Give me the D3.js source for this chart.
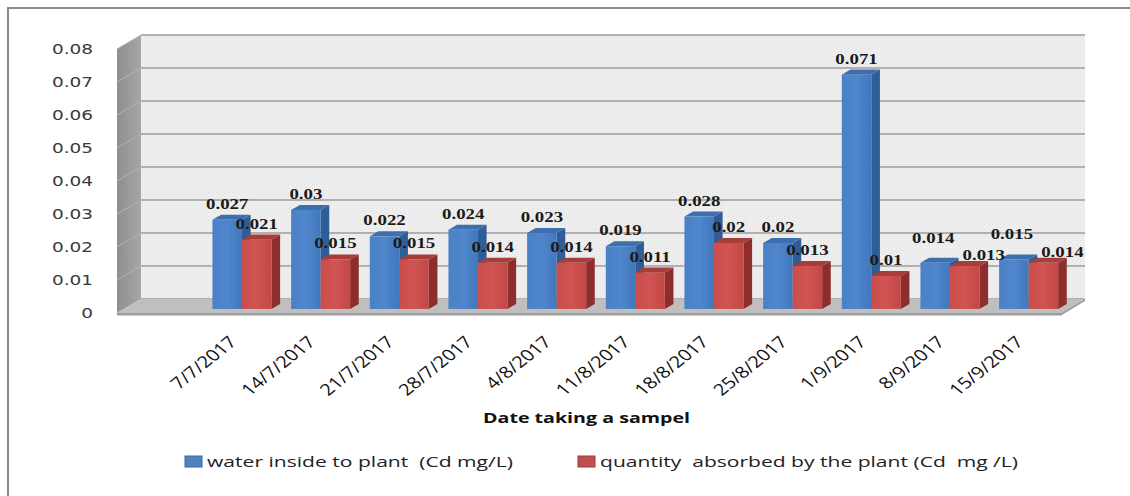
<!DOCTYPE html>
<html><head><meta charset="utf-8">
<script src="https://cdn.jsdelivr.net/npm/d3@7"></script>
<style>
body{margin:0;background:#fff}
svg{display:block}
text{white-space:pre}
</style>
</head><body>
<script>
// Sampling dates (categories)
const dates = ["7/7/2017","14/7/2017","21/7/2017","28/7/2017","4/8/2017","11/8/2017","18/8/2017","25/8/2017","1/9/2017","8/9/2017","15/9/2017"];
// Cd concentration in water inside the plant (mg/L)
const waterInside = [0.027,0.03,0.022,0.024,0.023,0.019,0.028,0.02,0.071,0.014,0.015];
// Cd quantity absorbed by the plant (mg/L)
const absorbed = [0.021,0.015,0.015,0.014,0.014,0.011,0.02,0.013,0.01,0.013,0.014];
const yTicks = [0,0.01,0.02,0.03,0.04,0.05,0.06,0.07,0.08];
const seriesNames = ["water inside to plant  (Cd mg/L)","quantity  absorbed by the plant (Cd  mg /L)"];
const axisTitle = "Date taking a sampel";

const W = 1130, H = 496;
const svg = d3.select("body").append("svg").attr("width", W).attr("height", H)
  .style("font-family", "'Open Sans', 'DejaVu Sans', sans-serif");

const defs = svg.append("defs");
// fine dotted texture for the back wall
const pat = defs.append("pattern").attr("id","wallTex").attr("width",4).attr("height",4).attr("patternUnits","userSpaceOnUse");
pat.append("rect").attr("width",4).attr("height",4).attr("fill","#eeeeee");
pat.append("rect").attr("x",0).attr("y",0).attr("width",1).attr("height",1).attr("fill","#e0e0e0");
pat.append("rect").attr("x",2).attr("y",2).attr("width",1).attr("height",1).attr("fill","#e4e4e4");

function lin(id, stops, x2=1, y2=0){
  const g = defs.append("linearGradient").attr("id",id).attr("x1",0).attr("y1",0).attr("x2",x2).attr("y2",y2);
  stops.forEach(([o,c]) => g.append("stop").attr("offset",o).attr("stop-color",c));
}
lin("sideWall", [[0,"#8f8f8f"],[1,"#a6a6a6"]]);
lin("blueFront", [[0,"#4a80c6"],[0.5,"#4f86cc"],[1,"#4178bd"]]);
lin("redFront", [[0,"#c94d4a"],[0.5,"#d05451"],[1,"#c24845"]]);

const palette = [
  {front:"url(#blueFront)", side:"#2f5d96", top:"#3d6eae", key:"#4f81bd", keyStroke:"#3a6aa5"},
  {front:"url(#redFront)",  side:"#8e2e2c", top:"#a73d3a", key:"#c0504d", keyStroke:"#9b3a37"}
];

// outer chart frame
svg.append("rect").attr("x",8).attr("y",8).attr("width",1200).attr("height",600)
  .attr("fill","none").attr("stroke","#8a8a8a").attr("stroke-width",2);

// 3D box geometry: front plane and depth offset
const DX = 24, DY = -14;
const floorLeft = 117, floorRight = 1061, baseY = 313;
const yFront = d3.scaleLinear().domain([0, 0.08]).range([baseY, baseY - 264]);
const step = (floorRight - floorLeft) / (dates.length + 1);
const x0 = d3.scaleBand().domain(dates).range([floorLeft + step, floorRight])
  .paddingInner(0.25).paddingOuter(0.125);
const keys = [0, 1];
const x1 = d3.scaleBand().domain(keys).range([0, x0.bandwidth()]);
const pts = a => a.map(p => p.join(",")).join(" ");

// back wall
svg.append("rect").attr("x", floorLeft + DX).attr("y", yFront(0.08) + DY)
  .attr("width", floorRight - floorLeft).attr("height", yFront(0) - yFront(0.08))
  .attr("fill","url(#wallTex)");
svg.append("g").selectAll("line").data(yTicks).join("line")
  .attr("x1", floorLeft + DX).attr("x2", floorRight + DX)
  .attr("y1", d => yFront(d) + DY).attr("y2", d => yFront(d) + DY)
  .attr("stroke","#9c9c9c").attr("stroke-width",1.4);

// left side wall
svg.append("polygon").attr("points", pts([
  [floorLeft, yFront(0.08)], [floorLeft + DX, yFront(0.08) + DY],
  [floorLeft + DX, yFront(0) + DY], [floorLeft, yFront(0)]
])).attr("fill","url(#sideWall)");
svg.append("g").selectAll("line").data(yTicks.slice(1)).join("line")
  .attr("x1", floorLeft).attr("x2", floorLeft + DX)
  .attr("y1", d => yFront(d)).attr("y2", d => yFront(d) + DY)
  .attr("stroke","#b3b3b3").attr("stroke-width",1);

// floor
svg.append("polygon").attr("points", pts([
  [floorLeft, baseY], [floorLeft + DX, baseY + DY], [floorRight + DX, baseY + DY], [floorRight, baseY]
])).attr("fill","#bfbfbf");
svg.append("polygon").attr("points", pts([
  [floorLeft, baseY], [floorRight, baseY], [floorRight + DX, baseY + DY],
  [floorRight + DX, baseY + DY + 2], [floorRight, baseY + 2.5], [floorLeft, baseY + 2.5]
])).attr("fill","#9d9d9d");

// bars
const d0 = 0.29, d1 = 0.65;
const ddx = (d1 - d0) * DX, ddy = (d1 - d0) * DY;
const rows = dates.map((d, i) => ({date: d, vals: [waterInside[i], absorbed[i]]}));
const bars = [];
rows.forEach(r => r.vals.forEach((v, s) => {
  const x = x0(r.date) + x1(s) + d0 * DX;
  const w = x1.bandwidth();
  const base = yFront(0) + d0 * DY;
  const top = yFront(v) + d0 * DY;
  bars.push({date: r.date, s, v, x, w, base, top});
}));

const bg = svg.append("g").selectAll("g").data(bars).join("g");
bg.append("polygon").attr("points", b => pts([
  [b.x + b.w, b.base], [b.x + b.w, b.top], [b.x + b.w + ddx, b.top + ddy], [b.x + b.w + ddx, b.base + ddy]
])).attr("fill", b => palette[b.s].side);
bg.append("polygon").attr("points", b => pts([
  [b.x, b.top], [b.x + b.w, b.top], [b.x + b.w + ddx, b.top + ddy], [b.x + ddx, b.top + ddy]
])).attr("fill", b => palette[b.s].top);
bg.append("rect").attr("x", b => b.x).attr("y", b => b.top)
  .attr("width", b => b.w).attr("height", b => b.base - b.top)
  .attr("fill", b => palette[b.s].front);

// data labels: above each bar; nudged apart when a pair would collide
const SX = 1.3;
const labels = bars.map(b => ({text: String(b.v), s: b.s, date: b.date, cx: b.x + b.w / 2, y: b.top - 11}));
dates.forEach(d => {
  const [a, c] = labels.filter(l => l.date === d);
  if (Math.abs(a.y - c.y) < 15) {
    a.y -= 9; a.cx -= 2;
    c.y += 5; c.cx += 19;
  }
});
svg.append("g").selectAll("g").data(labels).join("g")
  .attr("transform", l => `translate(${l.cx},${l.y}) scale(${SX},1)`)
  .append("text").attr("text-anchor","middle")
  .style("font-family","'Liberation Serif','Times New Roman',serif")
  .style("font-weight","bold").style("font-size","14.5px").attr("fill","#1a1a1a")
  .text(l => l.text);

// y axis
const yAxis = svg.append("g").attr("transform", "translate(97,0)")
  .call(d3.axisLeft(yFront).tickValues(yTicks).tickSize(0).tickPadding(3).tickFormat(d => String(d)));
yAxis.select(".domain").remove();
yAxis.selectAll("text")
  .attr("transform", `scale(1.32,1)`)
  .style("font-family","'DejaVu Sans',sans-serif").style("font-size","14px").attr("fill","#3a3a3a");

// x axis
const xAxis = svg.append("g").attr("transform", `translate(0,${baseY})`)
  .call(d3.axisBottom(x0).tickSize(0).tickPadding(0));
xAxis.select(".domain").remove();
xAxis.selectAll("text")
  .attr("y", 0).attr("dy", "0.35em").attr("text-anchor", "end")
  .attr("transform", `translate(-2,26) scale(1.25,1) rotate(-45)`)
  .style("font-family","'Open Sans',sans-serif").style("font-size","16px").attr("fill","#111");

// axis title
svg.append("text").attr("x", 483).attr("y", 423).attr("textLength", 207).attr("lengthAdjust","spacingAndGlyphs")
  .style("font-family","'Open Sans',sans-serif").style("font-weight","bold").style("font-size","15px")
  .attr("fill","#111").text(axisTitle);

// legend
const legendX = [185, 578], legendW = [306, 418];
const lg = svg.append("g").selectAll("g").data(keys).join("g")
  .attr("transform", k => `translate(${legendX[k]},456)`);
lg.append("rect").attr("width", 17).attr("height", 11)
  .attr("fill", k => palette[k].key).attr("stroke", k => palette[k].keyStroke).attr("stroke-width", 1);
lg.append("text").attr("x", 22).attr("y", 6).attr("dy","0.35em")
  .attr("textLength", k => legendW[k]).attr("lengthAdjust","spacingAndGlyphs")
  .style("font-family","'Open Sans',sans-serif").style("font-size","15px").attr("fill","#222")
  .text(k => seriesNames[k]);
</script>
</body></html>
